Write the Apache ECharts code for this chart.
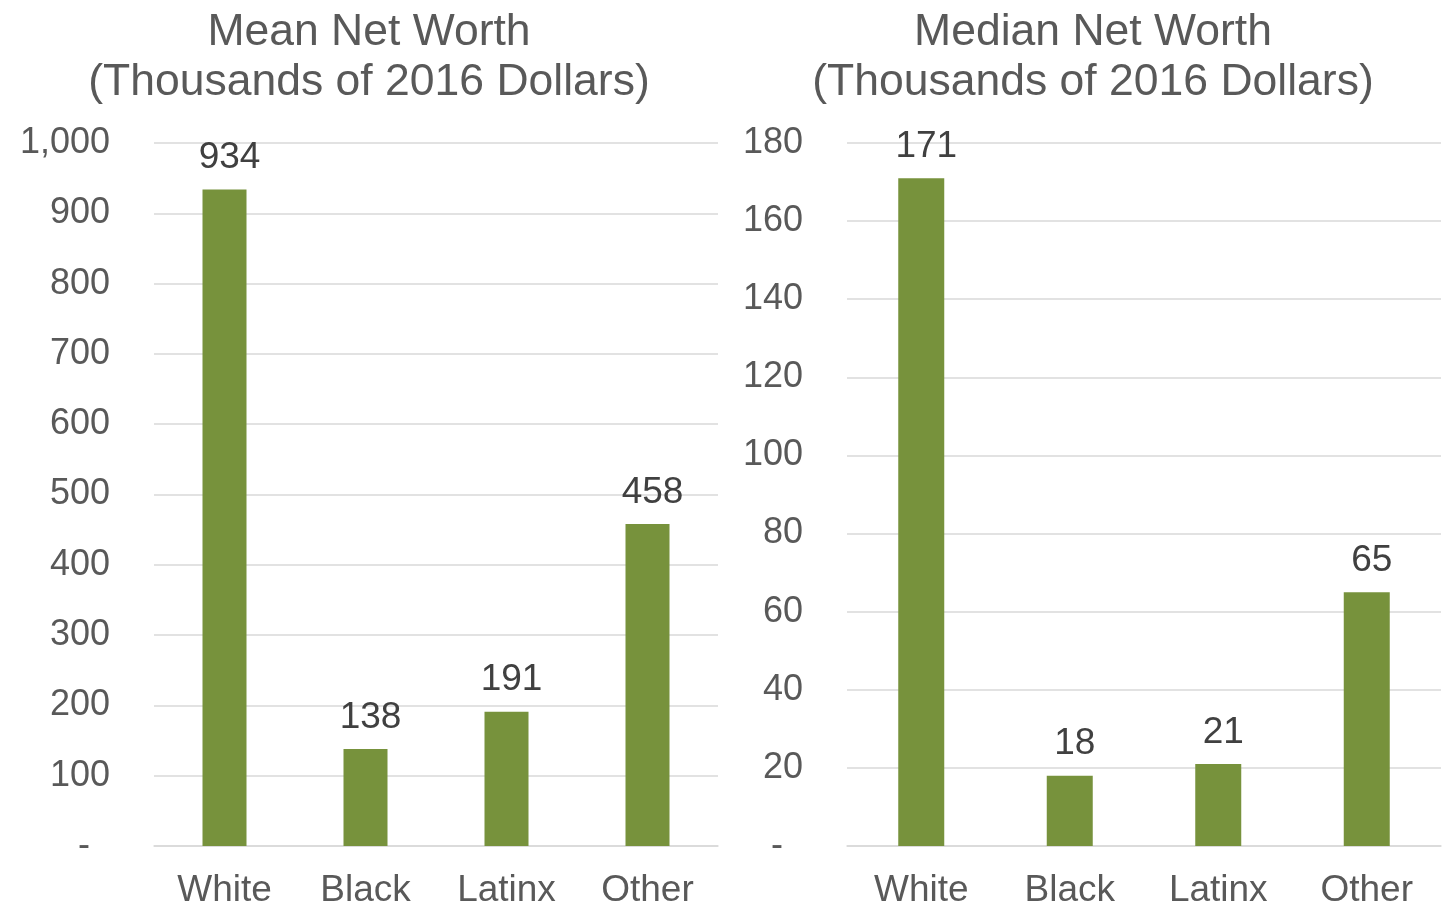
<!DOCTYPE html>
<html>
<head>
<meta charset="utf-8">
<script src="https://cdn.jsdelivr.net/npm/echarts@6/dist/echarts.min.js"></script>
<style>
  html, body { margin: 0; padding: 0; background: #fff; }
  #chart { width: 1453px; height: 906px; }
</style>
</head>
<body>
<div id="chart"></div>
<script>
// Net worth by race/ethnicity, thousands of 2016 dollars
const categories = ['White', 'Black', 'Latinx', 'Other'];
const meanValues = [934, 138, 191, 458];
const medianValues = [171, 18, 21, 65];
const meanTitle = 'Mean Net Worth\n(Thousands of 2016 Dollars)';
const medianTitle = 'Median Net Worth\n(Thousands of 2016 Dollars)';

const FONT = 'Liberation Sans, Arial, sans-serif';
const BAR = '#77923C';
const GRID = '#D9D9D9';
const TEXT = '#595959';

// Accounting-style tick labels: thousands separators, zero shown as a padded dash
function yLabel(v) {
  if (v === 0) return '-  ';
  return v.toLocaleString('en-US');
}

function xAxis(idx) {
  return {
    type: 'category', gridIndex: idx, data: categories,
    axisLine: { lineStyle: { color: GRID, width: 1.5 } },
    axisTick: { show: false },
    axisLabel: { color: TEXT, fontSize: 37, fontFamily: FONT, margin: 26 }
  };
}
function yAxis(idx, max, interval) {
  return {
    type: 'value', gridIndex: idx, min: 0, max: max, interval: interval,
    axisLine: { show: false }, axisTick: { show: false },
    splitLine: { lineStyle: { color: GRID, width: 1.5 } },
    axisLabel: { color: TEXT, fontSize: 36, fontFamily: FONT, margin: 44, formatter: yLabel }
  };
}
function barSeries(idx, data, width) {
  return {
    type: 'bar', xAxisIndex: idx, yAxisIndex: idx, data: data,
    barWidth: width,
    itemStyle: { color: BAR },
    label: { show: true, position: 'top', distance: 13, offset: [5, 0],
      color: '#404040', fontSize: 37, fontFamily: FONT }
  };
}

const titleStyle = { color: TEXT, fontSize: 44.5, fontWeight: 'normal', fontFamily: FONT, lineHeight: 50 };

const chart = echarts.init(document.getElementById('chart'), null, { renderer: 'canvas' });
chart.setOption({
  animation: false,
  backgroundColor: '#fff',
  title: [
    { text: meanTitle, left: 364, top: 3, textAlign: 'center', textStyle: titleStyle },
    { text: medianTitle, left: 1088, top: 3, textAlign: 'center', textStyle: titleStyle }
  ],
  grid: [
    { left: 154, right: 735, top: 143, bottom: 60, containLabel: false, outerBoundsMode: 'none' },
    { left: 847, right: 12, top: 143, bottom: 60, containLabel: false, outerBoundsMode: 'none' }
  ],
  xAxis: [xAxis(0), xAxis(1)],
  yAxis: [yAxis(0, 1000, 100), yAxis(1, 180, 20)],
  series: [barSeries(0, meanValues, 44), barSeries(1, medianValues, 46)]
});
</script>
</body>
</html>
